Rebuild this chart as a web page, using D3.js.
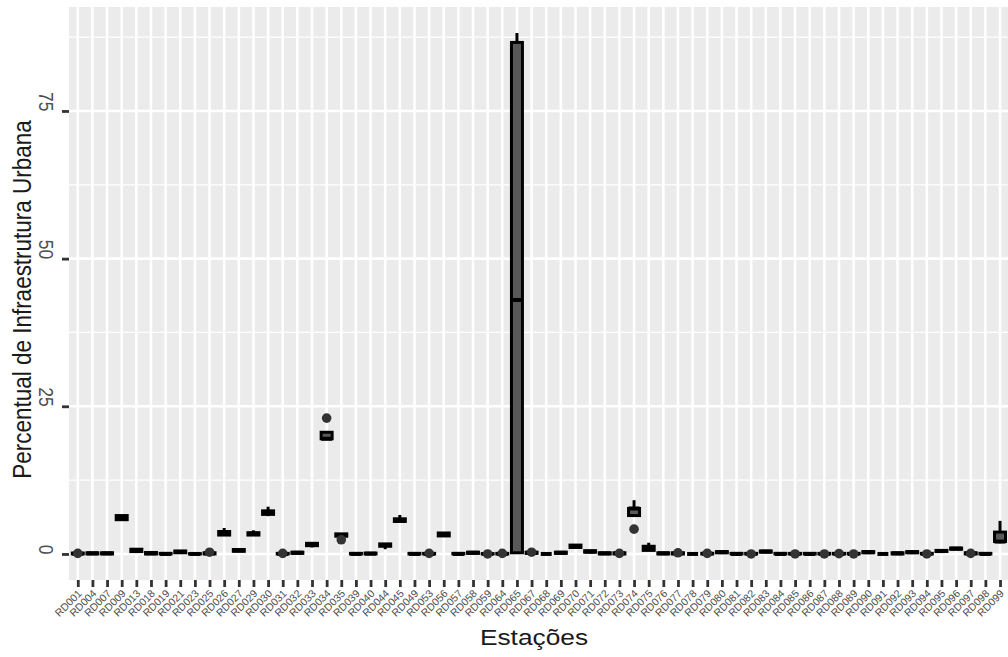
<!DOCTYPE html>
<html>
<head>
<meta charset="utf-8">
<script src="https://cdn.jsdelivr.net/npm/d3@7"></script>
<style>
  html, body { margin: 0; padding: 0; background: #fff; }
  svg { display: block; font-family: "Liberation Sans", Arial, sans-serif; }
</style>
</head>
<body>
<svg id="chart" width="1008" height="657"></svg>
<script>
// Stations (x categories)
const stations = ["RD001","RD004","RD007","RD009","RD013","RD018","RD019","RD021","RD023","RD025",
  "RD026","RD027","RD029","RD030","RD031","RD032","RD033","RD034","RD035","RD039",
  "RD040","RD044","RD045","RD049","RD053","RD056","RD057","RD058","RD059","RD064",
  "RD065","RD067","RD068","RD069","RD070","RD071","RD072","RD073","RD074","RD075",
  "RD076","RD077","RD078","RD079","RD080","RD081","RD082","RD083","RD084","RD085",
  "RD086","RD087","RD088","RD089","RD090","RD091","RD092","RD093","RD094","RD095",
  "RD096","RD097","RD098","RD099"];

// Box statistics per station (percent of urban infrastructure)
const q1  = [0,0,0,5.8,0.4,0,0,0.2,0,0,
  3.2,0.45,3.2,6.7,0,0.1,1.4,19.5,3.0,0,
  0,1.3,5.5,0,0,3.05,0,0.1,0,0,
  0.2,0.1,0,0.1,1.1,0.3,0,0,6.5,0.6,
  0,0,0,0,0.2,0,0,0.3,0,0,
  0,0,0,0,0.2,0,0,0.2,0,0.4,
  0.8,0,0,2.1];
const med = [0.05,0.1,0.1,6.2,0.6,0.1,0,0.35,0,0.1,
  3.5,0.6,3.4,7.0,0,0.2,1.6,19.5,3.2,0,
  0.05,1.5,5.7,0,0,3.3,0,0.2,0,0,
  43.0,0.2,0,0.2,1.3,0.4,0.1,0.1,7.7,1.0,
  0.1,0.1,0,0.05,0.3,0,0,0.4,0,0,
  0,0,0,0,0.3,0,0.1,0.3,0,0.5,
  0.9,0.1,0,2.1];
const q3  = [0.15,0.2,0.2,6.5,0.8,0.25,0.1,0.5,0.05,0.2,
  3.8,0.75,3.6,7.3,0.1,0.3,1.8,20.6,3.4,0.1,
  0.15,1.7,5.95,0.1,0.1,3.55,0.1,0.3,0.05,0.1,
  86.6,0.3,0,0.3,1.5,0.55,0.2,0.2,7.7,1.3,
  0.2,0.2,0,0.1,0.4,0.1,0.1,0.5,0.1,0.1,
  0.1,0.1,0.1,0.1,0.4,0,0.2,0.4,0.1,0.6,
  1.0,0.2,0.1,3.7];
const whiskerLow  = [0,0,0,5.8,0.4,0,0,0.2,0,0,
  3.2,0.45,3.2,6.4,0,0.1,1.1,19.5,3.0,0,
  0,0.8,5.5,0,0,3.05,0,0.1,0,0,
  0,0.1,0,0.1,1.1,0.3,0,0,6.5,0.5,
  0,0,0,0,0.2,0,0,0.3,0,0,
  0,0,0,0,0.2,0,0,0.2,0,0.4,
  0.8,0,0,1.8];
const whiskerHigh = [0.2,0.2,0.2,6.5,0.8,0.25,0.1,0.5,0.05,0.2,
  4.4,0.75,4.0,8.0,0.1,0.3,1.8,20.6,3.4,0.1,
  0.15,1.7,6.6,0.1,0.1,3.55,0.1,0.3,0.05,0.1,
  88.2,0.3,0,0.3,1.5,0.55,0.2,0.2,9.1,1.9,
  0.2,0.2,0,0.1,0.4,0.1,0.1,0.7,0.1,0.1,
  0.1,0.1,0.1,0.1,0.4,0,0.2,0.4,0.1,0.6,
  1.0,0.2,0.1,5.6];
// Outlying observations
const outliers = [[0.1],[],[],[],[],[],[],[],[],[0.3],
  [],[],[],[],[0.1],[],[],[23.0],[2.4],[],
  [],[],[],[],[0.1],[],[],[],[0],[0.1],
  [],[0.3],[],[],[],[],[],[0.1],[4.2],[],
  [],[0.2],[],[0.1],[],[],[0],[],[],[0],
  [],[0],[0.05],[0],[],[],[],[],[0],[],
  [],[0.1],[],[]];

const yTicks = [0, 25, 50, 75];
const yMinor = [12.5, 37.5, 62.5, 87.5];

const svg = d3.select("#chart");
const panel = { left: 69, right: 1008.8, top: 7, bottom: 580 };
const sx = 1.17; // horizontal text stretch

const x = d3.scalePoint().domain(stations).range([panel.left, panel.right]).padding(0.6);
const y = d3.scaleLinear().domain([-4.41, 92.6]).range([panel.bottom, panel.top]);
const boxW = x.step() * 0.75;

// panel background
svg.append("rect")
  .attr("x", panel.left).attr("y", panel.top)
  .attr("width", panel.right - panel.left).attr("height", panel.bottom - panel.top)
  .attr("fill", "#ebebeb");

const grid = svg.append("g");
grid.selectAll(".minor").data(yMinor).join("line")
  .attr("x1", panel.left).attr("x2", panel.right)
  .attr("y1", d => y(d)).attr("y2", d => y(d))
  .attr("stroke", "#fff").attr("stroke-width", 1.3);
grid.selectAll(".major").data(yTicks).join("line")
  .attr("x1", panel.left).attr("x2", panel.right)
  .attr("y1", d => y(d)).attr("y2", d => y(d))
  .attr("stroke", "#fff").attr("stroke-width", 2.6);
grid.selectAll(".vmajor").data(stations).join("line")
  .attr("x1", d => x(d)).attr("x2", d => x(d))
  .attr("y1", panel.top).attr("y2", panel.bottom)
  .attr("stroke", "#fff").attr("stroke-width", 2.6);

// boxplots
const rows = stations.map((s, i) => ({
  s, q1: q1[i], med: med[i], q3: q3[i], lo: whiskerLow[i], hi: whiskerHigh[i], out: outliers[i]
}));

const boxes = svg.append("g").selectAll("g").data(rows).join("g")
  .attr("transform", d => `translate(${x(d.s)},0)`);

boxes.append("line")
  .attr("y1", d => y(d.hi)).attr("y2", d => y(d.q3))
  .attr("stroke", "#000").attr("stroke-width", 3);
boxes.append("line")
  .attr("y1", d => y(d.lo)).attr("y2", d => y(d.q1))
  .attr("stroke", "#000").attr("stroke-width", 3);
boxes.append("rect")
  .attr("x", -boxW / 2).attr("width", boxW)
  .attr("y", d => y(d.q3)).attr("height", d => Math.max(0, y(d.q1) - y(d.q3)))
  .attr("fill", "#595959").attr("stroke", "#000").attr("stroke-width", 3);
boxes.append("line")
  .attr("x1", -boxW / 2).attr("x2", boxW / 2)
  .attr("y1", d => y(d.med)).attr("y2", d => y(d.med))
  .attr("stroke", "#000").attr("stroke-width", 4);
boxes.selectAll("circle").data(d => d.out).join("circle")
  .attr("cx", 0).attr("cy", d => y(d)).attr("r", 4.8)
  .attr("fill", "#333");

// y axis
const yAxis = svg.append("g")
  .attr("transform", `translate(${panel.left},0)`)
  .call(d3.axisLeft(y).tickValues(yTicks).tickSize(7).tickFormat(d3.format("d")));
yAxis.select(".domain").remove();
yAxis.selectAll(".tick line").attr("stroke", "#333").attr("stroke-width", 2.8);
yAxis.selectAll(".tick text")
  .attr("x", null).attr("dy", null)
  .attr("transform", `translate(-30,0) scale(${sx},1) rotate(90)`)
  .attr("text-anchor", "end")
  .attr("fill", "#4d4d4d").attr("font-size", 17.5);

// x axis
const xAxis = svg.append("g")
  .attr("transform", `translate(0,${panel.bottom})`)
  .call(d3.axisBottom(x).tickSize(7));
xAxis.select(".domain").remove();
xAxis.selectAll(".tick line").attr("stroke", "#333").attr("stroke-width", 2.8);
xAxis.selectAll(".tick text")
  .attr("y", null).attr("dy", "0.7em")
  .attr("transform", "translate(-1,9) rotate(-45)")
  .attr("text-anchor", "end")
  .attr("fill", "#4d4d4d").attr("font-size", 10.5);

// axis titles
svg.append("text")
  .attr("transform", `translate(534,645) scale(${sx},1)`)
  .attr("text-anchor", "middle")
  .attr("font-size", 22.5).attr("fill", "#1a1a1a")
  .text("Estações");
svg.append("text")
  .attr("transform", `translate(31,${(panel.top + panel.bottom) / 2 + 6}) scale(${sx},1) rotate(-90)`)
  .attr("text-anchor", "middle")
  .attr("font-size", 22.5).attr("fill", "#1a1a1a")
  .text("Percentual de Infraestrutura Urbana");
</script>
</body>
</html>
